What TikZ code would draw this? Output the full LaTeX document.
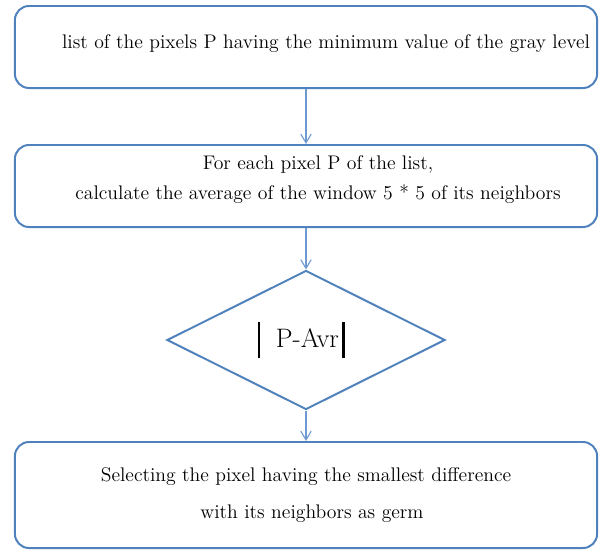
\documentclass[tikz,border=0pt]{standalone}
\usepackage{tikz}
\usetikzlibrary{arrows.meta,positioning,shapes.geometric}
\definecolor{flowBlue}{HTML}{4F81BD}
\definecolor{flowLine}{HTML}{6E9AD2}
\newcommand{\absbar}{\rule[-7pt]{2pt}{25pt}}

\begin{document}
\begin{tikzpicture}[
  x=0.025cm, y=-0.025cm,
  font=\fontsize{14}{17}\selectfont,
  box/.style={draw=flowBlue, line width=1.4pt, rounded corners=10pt, minimum width=14.55cm, align=center, inner sep=0pt},
  test/.style={draw=flowBlue, line width=1.4pt, diamond, aspect=2, minimum width=6.95cm, minimum height=3.475cm, inner sep=0pt, font=\fontsize{19}{22}\selectfont},
  link/.style={-{Straight Barb[length=2.2mm,width=2.6mm]}, draw=flowLine, line width=0.8pt}
]
\useasboundingbox (0,0) rectangle (599,549);
% processing steps
\node[box, minimum height=2.05cm, text depth=8pt] (list) at (306,47) {\hspace*{1cm}list of the pixels P having the minimum value of the gray level};
\node[box, minimum height=2.05cm, text depth=12pt] (avg) at (306,186) {\hspace*{0.6cm}For each pixel P of the list,\\[4pt] \hspace*{0.6cm}calculate the average of the window 5 * 5 of its neighbors};
\node[test] (diff) at (306,340) {\absbar\hspace{11pt}P-Avr\hspace{2pt}\absbar\hspace*{7pt}};
\node[box, minimum height=2.65cm] (germ) at (306,495) {Selecting the pixel having the smallest difference\\[9pt] \hspace*{0.3cm}with its neighbors as germ};
% connectors
\draw[link] (list) -- (avg);
\draw[link] (avg) -- (diff);
\draw[link] (diff) -- (germ);
\end{tikzpicture}
\end{document}
